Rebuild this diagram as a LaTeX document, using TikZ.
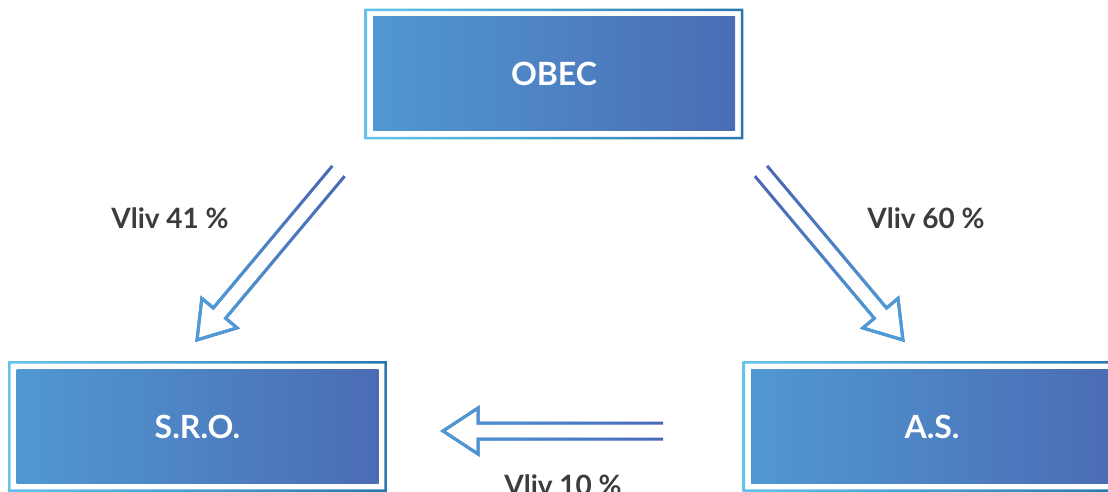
\documentclass[tikz,border=0pt]{standalone}
\usepackage{fontspec}
\setmainfont{Lato}
\usetikzlibrary{calc,fadings}

\definecolor{boxL}{RGB}{80,152,210}
\definecolor{boxR}{RGB}{75,108,180}
\definecolor{frameL}{RGB}{100,195,236}
\definecolor{frameR}{RGB}{40,120,175}
\definecolor{flowD}{RGB}{74,106,182}
\definecolor{flowL}{RGB}{78,156,215}
\definecolor{labelgray}{RGB}{60,60,60}

\tikzfading[name=tohead, left color=transparent!100, right color=transparent!0]

\tikzset{
  entity/.style={minimum width=362pt, minimum height=114pt, inner sep=0pt,
    left color=boxL, right color=boxR, text=white,
    font=\bfseries\fontsize{32}{36}\selectfont},
  flow/.style={line width=3pt, line join=miter},
  vliv/.style={text=labelgray, font=\bfseries\fontsize{28}{32}\selectfont}
}

% thin frame around an entity box
\newcommand{\entityframe}[1]{%
  \shade[left color=frameL, right color=frameR, even odd rule]
    ([shift={(-8.25pt,8.25pt)}]#1.north west) rectangle ([shift={(8.25pt,-8.25pt)}]#1.south east)
    ([shift={(-5.75pt,5.75pt)}]#1.north west) rectangle ([shift={(5.75pt,-5.75pt)}]#1.south east);
}

% hollow double arrow from #1 to #2, #3 = direction for the fading
\newcommand{\hollowarrow}[3]{%
  \path ($(#2)!35pt!(#1)$) coordinate (hb);
  \draw[flow, flowD] ($(#1)!8pt!-90:(#2)$) -- ($(hb)!8pt!-90:(#2)$) -- ($(hb)!23pt!-90:(#2)$)
    -- (#2) -- ($(hb)!23pt!90:(#2)$) -- ($(hb)!8pt!90:(#2)$) -- ($(#1)!8pt!90:(#2)$);
  \draw[flow, flowL, path fading=tohead, fading angle=#3] ($(#1)!8pt!-90:(#2)$) -- ($(hb)!8pt!-90:(#2)$) -- ($(hb)!23pt!-90:(#2)$)
    -- (#2) -- ($(hb)!23pt!90:(#2)$) -- ($(hb)!8pt!90:(#2)$) -- ($(#1)!8pt!90:(#2)$);
}

\begin{document}
\begin{tikzpicture}[x=1pt, y=-1pt]
\useasboundingbox (0,0) rectangle (1108,492);
\clip (0,0) rectangle (1108,492);

% the three entities
\node[entity] (obec) at (554,74) {OBEC};
\node[entity] (sro) at (197.5,426.5) {S.R.O.};
\node[entity] (as) at (932,426.5) {A.S.};
\entityframe{obec}
\entityframe{sro}
\entityframe{as}

% influence arrows
\coordinate (t41) at (338.5,171);
\coordinate (h41) at (197,340);
\coordinate (t60) at (761,171);
\coordinate (h60) at (903,340);
\coordinate (t10) at (663,431);
\coordinate (h10) at (443,431);
\hollowarrow{t41}{h41}{230}
\hollowarrow{t60}{h60}{309}
\hollowarrow{t10}{h10}{180}

\node[vliv, anchor=base] (l41) at (170,228) {Vliv 41 \%};
\node[vliv, anchor=base] (l60) at (926,228) {Vliv 60 \%};
\node[vliv, anchor=base] (l10) at (563,495) {Vliv 10 \%};
\end{tikzpicture}
\end{document}
